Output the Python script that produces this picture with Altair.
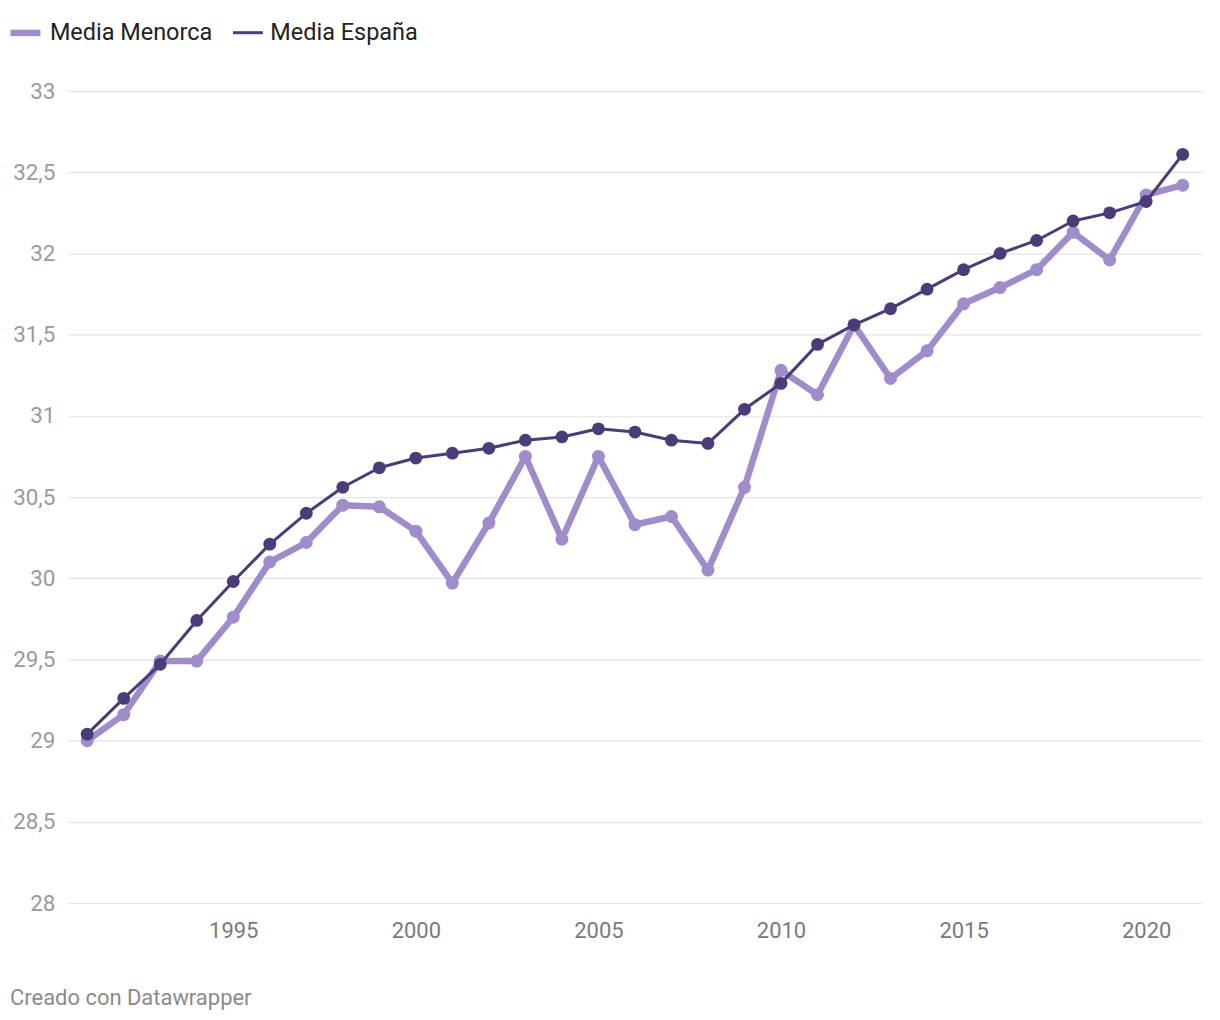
import altair as alt
import pandas as pd

years = list(range(1991, 2022))
menorca = [29.00, 29.16, 29.49, 29.49, 29.76, 30.10, 30.22, 30.45, 30.44, 30.29,
           29.97, 30.34, 30.75, 30.24, 30.75, 30.33, 30.38, 30.05, 30.56, 31.28,
           31.13, 31.56, 31.23, 31.40, 31.69, 31.79, 31.90, 32.13, 31.96, 32.36, 32.42]
espana = [29.04, 29.26, 29.47, 29.74, 29.98, 30.21, 30.40, 30.56, 30.68, 30.74,
          30.77, 30.80, 30.85, 30.87, 30.92, 30.90, 30.85, 30.83, 31.04, 31.20,
          31.44, 31.56, 31.66, 31.78, 31.90, 32.00, 32.08, 32.20, 32.25, 32.32, 32.61]
series = ["Media Menorca", "Media España"]
colors = ["#a08bcb", "#4b3c78"]
x_ticks = [1995, 2000, 2005, 2010, 2015, 2020]
y_ticks = [28, 28.5, 29, 29.5, 30, 30.5, 31, 31.5, 32, 32.5, 33]
footer = "Creado con Datawrapper"

df = pd.DataFrame({
    "year": years * 2,
    "value": menorca + espana,
    "serie": [series[0]] * len(years) + [series[1]] * len(years),
})

FONT = "Roboto"

x_enc = alt.X("year:Q",
              scale=alt.Scale(domain=[1990.47, 2021.53], nice=False, zero=False),
              axis=alt.Axis(values=x_ticks, format="d", title=None, grid=False,
                            domain=False, ticks=False, labelFontSize=22,
                            labelColor="#7a7a7a", labelPadding=18, labelFont=FONT))
y_enc = alt.Y("value:Q",
              scale=alt.Scale(domain=[28, 33], nice=False, zero=False),
              axis=alt.Axis(values=y_ticks, title=None, domain=False, ticks=False,
                            labelExpr="replace(toString(datum.value), '.', ',')",
                            labelFontSize=22.5, labelColor="#9a9a9a", labelPadding=13,
                            gridColor="#e3e3e3", gridWidth=1.2, labelFont=FONT))

legend_kw = dict(title=None, orient="none", direction="horizontal",
                 legendX=-61, legendY=-77, symbolType="stroke",
                 symbolSize=900, labelFontSize=23.5, labelLimit=400,
                 labelColor="#222222", labelFont=FONT,
                 labelOffset=6, columnPadding=14)
color_line = alt.Color("serie:N", scale=alt.Scale(domain=series, range=colors),
                       legend=alt.Legend(**legend_kw))
sw = alt.StrokeWidth("serie:N", scale=alt.Scale(domain=series, range=[6.5, 3]),
                     legend=alt.Legend(**legend_kw))
color_pt = alt.Color("serie:N", scale=alt.Scale(domain=series, range=colors), legend=None)

base = alt.Chart(df)
layers = []
for s, size in zip(series, [170, 165]):
    sub = base.transform_filter(alt.datum.serie == s)
    layers.append(sub.mark_line(strokeCap="round", strokeJoin="round").encode(
        x=x_enc, y=y_enc, color=color_line, strokeWidth=sw))
    layers.append(sub.mark_point(filled=True, opacity=1, size=size).encode(
        x=x_enc, y=y_enc, color=color_pt))

foot = alt.Chart(pd.DataFrame({"t": [footer]})).mark_text(
    align="left", baseline="middle", fontSize=22, color="#8a8a8a", font=FONT
).encode(x=alt.value(-58), y=alt.value(909), text="t:N")

chart = alt.layer(*layers, foot).properties(
    width=1137, height=814,
    autosize=alt.AutoSizeParams(type="none"),
    padding={"left": 60, "top": 82, "right": 10, "bottom": 110},
    background="white",
).configure_view(stroke=None)

chart.save("out.html", embed_options={"renderer": "svg", "actions": False})
